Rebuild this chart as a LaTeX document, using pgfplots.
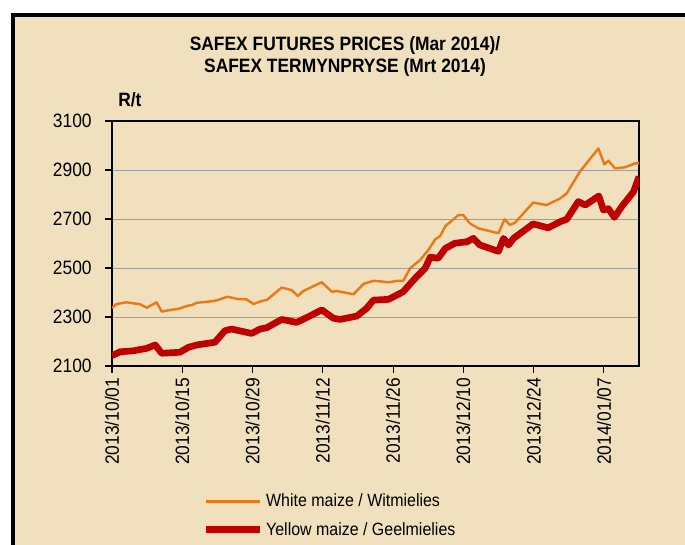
\documentclass[border=0pt]{standalone}
\usepackage{fontspec}
\setmainfont{Liberation Sans}[FakeStretch=0.9]
\usepackage{pgfplots}
\pgfplotsset{compat=1.18}
\definecolor{parch}{RGB}{240,224,189}
\definecolor{whitemaize}{RGB}{235,120,20}
\definecolor{yellowmaize}{RGB}{192,0,0}

% day 0 = 2013/10/01
\pgfplotstableread{
day price
0 2337
0.9 2353
2.9 2360
5.6 2352
6.9 2338
8.9 2360
9.9 2322
11.6 2329
13.2 2333
14.9 2345
15.9 2349
16.9 2358
20.2 2365
21.5 2372
22.9 2383
25.2 2373
26.8 2372
28.2 2353
29.9 2366
30.8 2369
33.8 2420
35.8 2410
37.0 2386
38.1 2406
41.8 2442
43.8 2403
44.8 2406
48.1 2393
50.1 2435
52.1 2448
55.1 2442
57.0 2448
58.0 2447
59.4 2499
61.4 2533
63.0 2573
64.4 2617
65.4 2631
66.4 2671
67.7 2693
69.0 2716
70.0 2716
71.3 2682
73.0 2662
77.0 2642
78.2 2699
79.3 2676
80.3 2685
83.9 2767
86.6 2757
89.3 2784
90.6 2805
93.2 2893
96.9 2988
98.1 2923
98.9 2938
100.2 2907
102.2 2911
104.2 2927
105 2927
}\whitemaize

\pgfplotstableread{
day price
0 2142
1.6 2158
4.2 2162
6.9 2172
8.6 2186
9.9 2152
13.5 2156
15.2 2176
16.9 2186
20.5 2197
22.5 2244
23.8 2251
27.8 2233
29.5 2251
30.8 2256
33.8 2290
36.8 2278
39.1 2301
41.8 2329
44.1 2295
45.4 2290
48.8 2304
50.7 2335
52.1 2369
55.1 2372
58.0 2403
60.4 2458
62.4 2499
63.4 2544
65.0 2540
66.4 2580
68.3 2601
70.7 2607
72.0 2621
73.3 2594
77.0 2568
78.0 2621
79.0 2594
80.0 2621
83.9 2680
86.9 2664
89.3 2689
90.6 2699
92.9 2771
94.3 2757
97.0 2794
97.9 2737
98.9 2742
100.1 2707
101.6 2752
103.9 2811
105 2873
}\yellowmaize

\begin{document}
\begin{tikzpicture}[x=0.75pt,y=0.75pt]
\useasboundingbox (0,0) rectangle (685,544);
\fill[white] (0,0) rectangle (685,544);
\fill[parch] (13,-20) rectangle (720,529);
\draw[black, line width=3pt] (13,-20) -- (13,529) -- (720,529);

\node[font=\bfseries\fontsize{14.5}{17}\selectfont, align=center] at (345,487.5)
  {SAFEX FUTURES PRICES (Mar 2014)/\\SAFEX TERMYNPRYSE (Mrt 2014)};
\node[font=\bfseries\fontsize{14.5}{16}\selectfont, anchor=west, inner sep=0pt] at (118,444) {R/t};

\begin{axis}[
  at={(84pt,133.5pt)}, anchor=south west,
  scale only axis, width=395.25pt, height=183.75pt,
  xmin=0, xmax=105, ymin=2100, ymax=3100,
  xtick={0,14,...,98},
  xticklabels={2013/10/01,2013/10/15,2013/10/29,2013/11/12,2013/11/26,2013/12/10,2013/12/24,2014/01/07},
  ytick={2100,2300,...,3100},
  ymajorgrids, grid style={draw=gray!75, line width=0.6pt},
  axis line style={line width=2.2pt},
  tick align=outside, xtick pos=bottom, ytick pos=left,
  major tick length=5.25pt, tick style={black, line width=0.8pt},
  tick label style={font=\fontsize{14.5}{16}\selectfont},
  y tick label style={xshift=-6.5pt},
  x tick label style={rotate=90, anchor=east},
  /pgf/number format/assume math mode=true,
  /pgf/number format/1000 sep={},
  legend style={draw=none, fill=none, at={(0.163,-0.5)}, anchor=north west,
    font=\fontsize{13.3}{15}\selectfont, row sep=6pt, cells={anchor=west}},
  legend image code/.code={\draw[#1] (0pt,0pt) -- (41pt,0pt);},
]
\addplot[whitemaize, line width=1.8pt, line join=round] table[x=day, y=price] {\whitemaize};
\addplot[yellowmaize, line width=5pt, line join=round] table[x=day, y=price] {\yellowmaize};
\legend{White maize / Witmielies, Yellow maize / Geelmielies}
\end{axis}
\end{tikzpicture}
\end{document}
